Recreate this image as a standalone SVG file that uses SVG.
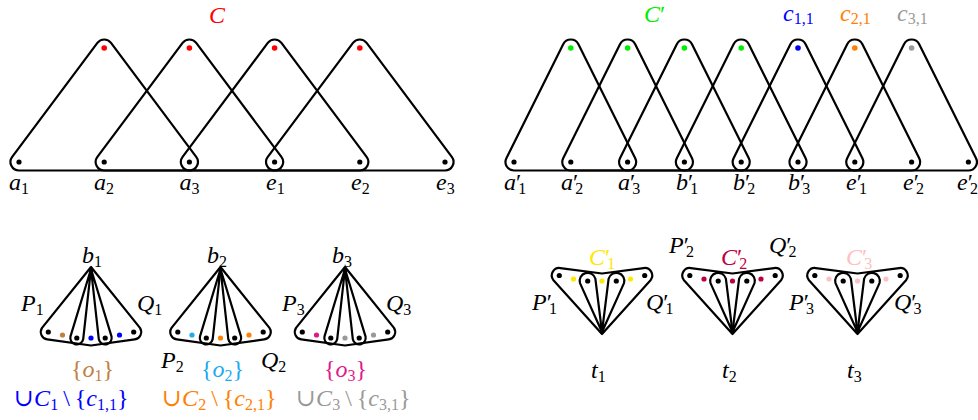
<svg xmlns="http://www.w3.org/2000/svg" xmlns:xlink="http://www.w3.org/1999/xlink" width="978" height="420" viewBox="0 0 978 420">
<style>
.e{fill:none;stroke:#000;stroke-width:2.2;stroke-linejoin:round}
.m{font-family:"Liberation Serif","DejaVu Serif",serif;font-style:italic;font-size:24px;fill:#000}
.s{font-style:normal;font-size:16px}
.u{font-style:normal}
.k{fill:#000}
</style>
<defs>
<path id="triL" class="e" d="M -6.81 156.91 L 78.39 42.91 A 8.5 8.5 0 0 1 92.01 42.91 L 177.21 156.91 A 8.5 8.5 0 0 1 170.4 170.5 L 0 170.5 A 8.5 8.5 0 0 1 -6.81 156.91 Z"/>
<path id="triR" class="e" d="M -7.61 158.21 L 49.19 44.21 A 8.5 8.5 0 0 1 64.41 44.21 L 121.21 158.21 A 8.5 8.5 0 0 1 113.6 170.5 L 0 170.5 A 8.5 8.5 0 0 1 -7.61 158.21 Z"/>
<g id="fanD">
<path class="e" d="M 0 -3 L -48.97 57.88 A 7.5 7.5 0 0 0 -43.74 69.43 L 0 75.5 L 43.74 69.43 A 7.5 7.5 0 0 0 48.97 57.88 Z"/>
<path class="e" d="M 0 -1 L -20.57 66.69 A 6.5 6.5 0 1 0 -7.83 69.31 Z"/>
<path class="e" d="M 0 -1 L 7.83 69.31 A 6.5 6.5 0 1 0 20.57 66.69 Z"/>
<circle class="k" cx="0" cy="0" r="2.3"/>
<circle class="k" cx="-42.7" cy="62" r="2.6"/>
<circle class="k" cx="-14.2" cy="68" r="2.6"/>
<circle class="k" cx="14.2" cy="68" r="2.6"/>
<circle class="k" cx="42.7" cy="62" r="2.6"/>
</g>
<g id="fanU">
<path class="e" d="M 0 3 L -48.76 -51.08 A 7.5 7.5 0 0 1 -41.74 -62.94 L 0 -57.5 L 41.74 -62.94 A 7.5 7.5 0 0 1 48.76 -51.08 Z"/>
<path class="e" d="M 0 1 L -22 -47.84 A 8 8 0 1 1 -6.6 -52.16 Z"/>
<path class="e" d="M 0 1 L 6.6 -52.16 A 8 8 0 1 1 22 -47.84 Z"/>
<circle class="k" cx="0" cy="0" r="2.6"/>
<circle class="k" cx="-42.7" cy="-55.5" r="2.6"/>
<circle class="k" cx="-14.3" cy="-50" r="2.6"/>
<circle class="k" cx="14.3" cy="-50" r="2.6"/>
<circle class="k" cx="42.7" cy="-55.5" r="2.6"/>
</g>
</defs>

<g id="connectors">
<use href="#triL" x="19"/>
<use href="#triL" x="104.2"/>
<use href="#triL" x="189.4"/>
<use href="#triL" x="274.6"/>
<use href="#triR" x="514"/>
<use href="#triR" x="570.8"/>
<use href="#triR" x="627.6"/>
<use href="#triR" x="684.4"/>
<use href="#triR" x="741.2"/>
<use href="#triR" x="798"/>
<use href="#triR" x="854.8"/>
</g>

<!-- top left -->
<g id="labelC"><text class="m" x="209" y="23" style="fill:#ff0000">C</text></g>
<g id="topL-red">
<circle cx="104.2" cy="48" r="2.8" fill="#ff0000"/>
<circle cx="189.4" cy="48" r="2.8" fill="#ff0000"/>
<circle cx="274.6" cy="48" r="2.8" fill="#ff0000"/>
<circle cx="359.8" cy="48" r="2.8" fill="#ff0000"/>
</g>
<g id="a1"><circle class="k" cx="19" cy="162" r="2.6"/><text class="m" x="9" y="190">a<tspan class="s" dy="4">1</tspan></text></g>
<g id="a2"><circle class="k" cx="104.2" cy="162" r="2.6"/><text class="m" x="94" y="190">a<tspan class="s" dy="4">2</tspan></text></g>
<g id="a3"><circle class="k" cx="189.4" cy="162" r="2.6"/><text class="m" x="179.5" y="190">a<tspan class="s" dy="4">3</tspan></text></g>
<g id="e1"><circle class="k" cx="274.6" cy="162" r="2.6"/><text class="m" x="266" y="190">e<tspan class="s" dy="4">1</tspan></text></g>
<g id="e2"><circle class="k" cx="359.8" cy="162" r="2.6"/><text class="m" x="351" y="190">e<tspan class="s" dy="4">2</tspan></text></g>
<g id="e3"><circle class="k" cx="445" cy="162" r="2.6"/><text class="m" x="436" y="190">e<tspan class="s" dy="4">3</tspan></text></g>

<!-- top right -->
<g id="labelCp"><text class="m" x="644" y="22" style="fill:#00ee00">C<tspan class="u">′</tspan></text></g>
<g id="c11"><text class="m" x="783" y="21" style="fill:#0000ff">c<tspan class="s" dy="3">1,1</tspan></text></g>
<g id="c21"><text class="m" x="840" y="21" style="fill:#ff8000">c<tspan class="s" dy="3">2,1</tspan></text></g>
<g id="c31"><text class="m" x="897" y="21" style="fill:#999999">c<tspan class="s" dy="3">3,1</tspan></text></g>
<g id="topR-apex">
<circle cx="570.8" cy="48" r="2.8" fill="#00ee00"/>
<circle cx="627.6" cy="48" r="2.8" fill="#00ee00"/>
<circle cx="684.4" cy="48" r="2.8" fill="#00ee00"/>
<circle cx="741.2" cy="48" r="2.8" fill="#00ee00"/>
<circle cx="798" cy="48" r="2.8" fill="#0000ff"/>
<circle cx="854.8" cy="48" r="2.8" fill="#ff8000"/>
<circle cx="911.6" cy="48" r="2.8" fill="#999999"/>
</g>
<g id="ap1"><circle class="k" cx="514" cy="162" r="2.6"/><text class="m" x="504" y="190">a<tspan class="u">′</tspan><tspan class="s" dx="-3" dy="4">1</tspan></text></g>
<g id="ap2"><circle class="k" cx="570.8" cy="162" r="2.6"/><text class="m" x="561" y="190">a<tspan class="u">′</tspan><tspan class="s" dx="-3" dy="4">2</tspan></text></g>
<g id="ap3"><circle class="k" cx="627.6" cy="162" r="2.6"/><text class="m" x="618" y="190">a<tspan class="u">′</tspan><tspan class="s" dx="-3" dy="4">3</tspan></text></g>
<g id="bp1"><circle class="k" cx="684.4" cy="162" r="2.6"/><text class="m" x="676" y="190">b<tspan class="u">′</tspan><tspan class="s" dx="-3" dy="4">1</tspan></text></g>
<g id="bp2"><circle class="k" cx="741.2" cy="162" r="2.6"/><text class="m" x="733" y="190">b<tspan class="u">′</tspan><tspan class="s" dx="-3" dy="4">2</tspan></text></g>
<g id="bp3"><circle class="k" cx="798" cy="162" r="2.6"/><text class="m" x="788" y="190">b<tspan class="u">′</tspan><tspan class="s" dx="-3" dy="4">3</tspan></text></g>
<g id="ep1"><circle class="k" cx="854.8" cy="162" r="2.6"/><text class="m" x="846" y="190">e<tspan class="u">′</tspan><tspan class="s" dx="-3" dy="4">1</tspan></text></g>
<g id="ep2"><circle class="k" cx="911.6" cy="162" r="2.6"/><text class="m" x="903" y="190">e<tspan class="u">′</tspan><tspan class="s" dx="-3" dy="4">2</tspan></text></g>
<g id="ep2b"><circle class="k" cx="968.4" cy="162" r="2.6"/><text class="m" x="957" y="190">e<tspan class="u">′</tspan><tspan class="s" dx="-3" dy="4">2</tspan></text></g>

<!-- bottom left fans -->
<g id="b1">
<use href="#fanD" x="91" y="270"/>
<circle cx="62.5" cy="335" r="2.6" fill="#bf8040"/>
<circle cx="91" cy="338" r="2.6" fill="#0000ff"/>
<circle cx="119.5" cy="335" r="2.6" fill="#0000ff"/>
<text class="m" x="82" y="263">b<tspan class="s" dy="4">1</tspan></text>
<text class="m" x="21" y="311">P<tspan class="s" dy="4">1</tspan></text>
<text class="m" x="137" y="311">Q<tspan class="s" dy="4">1</tspan></text>
<text class="m" x="71" y="377" style="fill:#bf8040"><tspan class="u">{</tspan>o<tspan class="s" dy="4">1</tspan><tspan class="u" dy="-4">}</tspan></text>
<text class="m" x="14" y="406" style="fill:#0000ff"><tspan class="u">∪</tspan>C<tspan class="s" dy="4">1</tspan><tspan class="u" dx="5" dy="-4">\</tspan><tspan class="u" dx="5">{</tspan>c<tspan class="s" dy="4">1,1</tspan><tspan class="u" dy="-4">}</tspan></text>
</g>
<g id="b2">
<use href="#fanD" x="220.5" y="270"/>
<circle cx="192" cy="335" r="2.6" fill="#20aaee"/>
<circle cx="220.5" cy="338" r="2.6" fill="#ff8000"/>
<circle cx="249" cy="335" r="2.6" fill="#ff8000"/>
<text class="m" x="207" y="263">b<tspan class="s" dy="4">2</tspan></text>
<text class="m" x="161" y="368">P<tspan class="s" dy="4">2</tspan></text>
<text class="m" x="261" y="368">Q<tspan class="s" dy="4">2</tspan></text>
<text class="m" x="201" y="377" style="fill:#20aaee"><tspan class="u">{</tspan>o<tspan class="s" dy="4">2</tspan><tspan class="u" dy="-4">}</tspan></text>
<text class="m" x="162" y="406" style="fill:#ff8000"><tspan class="u">∪</tspan>C<tspan class="s" dy="4">2</tspan><tspan class="u" dx="5" dy="-4">\</tspan><tspan class="u" dx="5">{</tspan>c<tspan class="s" dy="4">2,1</tspan><tspan class="u" dy="-4">}</tspan></text>
</g>
<g id="b3">
<use href="#fanD" x="345" y="270"/>
<circle cx="316.5" cy="335" r="2.6" fill="#e0188a"/>
<circle cx="345" cy="338" r="2.6" fill="#999999"/>
<circle cx="373.5" cy="335" r="2.6" fill="#999999"/>
<text class="m" x="332" y="263">b<tspan class="s" dy="4">3</tspan></text>
<text class="m" x="282" y="311">P<tspan class="s" dy="4">3</tspan></text>
<text class="m" x="386" y="311">Q<tspan class="s" dy="4">3</tspan></text>
<text class="m" x="324" y="377" style="fill:#e0188a"><tspan class="u">{</tspan>o<tspan class="s" dy="4">3</tspan><tspan class="u" dy="-4">}</tspan></text>
<text class="m" x="296" y="406" style="fill:#999999"><tspan class="u">∪</tspan>C<tspan class="s" dy="4">3</tspan><tspan class="u" dx="5" dy="-4">\</tspan><tspan class="u" dx="5">{</tspan>c<tspan class="s" dy="4">3,1</tspan><tspan class="u" dy="-4">}</tspan></text>
</g>

<!-- bottom right fans -->
<g id="t1">
<use href="#fanU" x="602" y="331"/>
<circle cx="573.5" cy="279" r="2.6" fill="#ffe800"/>
<circle cx="602" cy="281" r="2.6" fill="#ffe800"/>
<circle cx="630.5" cy="279" r="2.6" fill="#ffe800"/>
<text class="m" x="589" y="265" style="fill:#ffe800">C<tspan class="u">′</tspan><tspan class="s" dx="-3" dy="4">1</tspan></text>
<text class="m" x="532" y="310">P<tspan class="u">′</tspan><tspan class="s" dx="-3" dy="4">1</tspan></text>
<text class="m" x="646" y="310">Q<tspan class="u">′</tspan><tspan class="s" dx="-3" dy="4">1</tspan></text>
<text class="m" x="591" y="378">t<tspan class="s" dy="4">1</tspan></text>
</g>
<g id="t2">
<use href="#fanU" x="732.5" y="331"/>
<circle cx="704" cy="279" r="2.6" fill="#bf0040"/>
<circle cx="732.5" cy="281" r="2.6" fill="#bf0040"/>
<circle cx="761" cy="279" r="2.6" fill="#bf0040"/>
<text class="m" x="721" y="265" style="fill:#bf0040">C<tspan class="u">′</tspan><tspan class="s" dx="-3" dy="4">2</tspan></text>
<text class="m" x="669" y="253">P<tspan class="u">′</tspan><tspan class="s" dx="-3" dy="4">2</tspan></text>
<text class="m" x="769" y="253">Q<tspan class="u">′</tspan><tspan class="s" dx="-3" dy="4">2</tspan></text>
<text class="m" x="722" y="378">t<tspan class="s" dy="4">2</tspan></text>
</g>
<g id="t3">
<use href="#fanU" x="857.5" y="331"/>
<circle cx="829" cy="279" r="2.6" fill="#ffc0c0"/>
<circle cx="857.5" cy="281" r="2.6" fill="#ffc0c0"/>
<circle cx="886" cy="279" r="2.6" fill="#ffc0c0"/>
<text class="m" x="846" y="265" style="fill:#ffc0c0">C<tspan class="u">′</tspan><tspan class="s" dx="-3" dy="4">3</tspan></text>
<text class="m" x="789" y="310">P<tspan class="u">′</tspan><tspan class="s" dx="-3" dy="4">3</tspan></text>
<text class="m" x="894" y="310">Q<tspan class="u">′</tspan><tspan class="s" dx="-3" dy="4">3</tspan></text>
<text class="m" x="847" y="378">t<tspan class="s" dy="4">3</tspan></text>
</g>
</svg>
